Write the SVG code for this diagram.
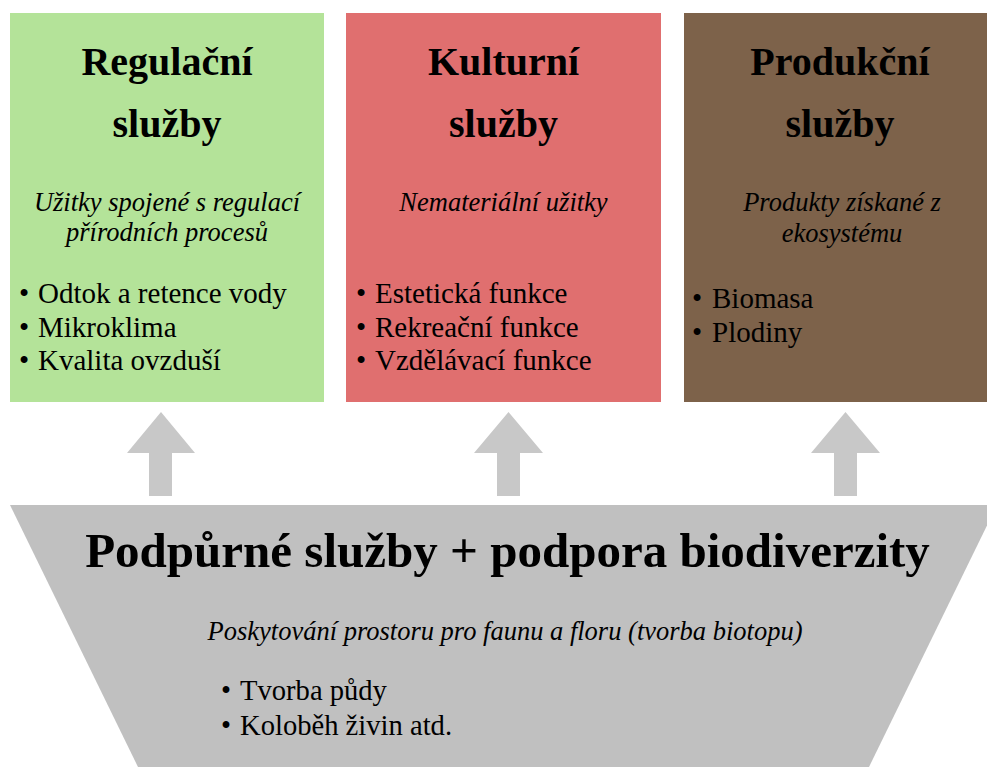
<svg xmlns="http://www.w3.org/2000/svg" width="987" height="767" viewBox="0 0 987 767">
<style>
.t{font-family:"Liberation Serif","Times New Roman",serif;fill:#000}
.h{font-size:40px;font-weight:bold;text-anchor:middle}
.i{font-size:26.5px;font-style:italic;text-anchor:middle}
.b{font-size:29px}
.bb{font-size:28.6px}
.big{font-size:49px;font-weight:bold;text-anchor:middle}
.arrow{fill:#c8c8c8}
</style>
<rect width="987" height="767" fill="#ffffff"/>
<g id="regulacni">
<rect x="10" y="13" width="314" height="389" fill="#b4e399"/>
<text class="t h" x="167" y="75">Regulační</text>
<text class="t h" x="167" y="137">služby</text>
<text class="t i" x="167" y="211">Užitky spojené s regulací</text>
<text class="t i" x="167" y="241">přírodních procesů</text>
<text class="t b" x="19" y="303">•</text><text class="t b" x="38" y="303">Odtok a retence vody</text>
<text class="t b" x="19" y="337">•</text><text class="t b" x="38" y="337">Mikroklima</text>
<text class="t b" x="19" y="370">•</text><text class="t b" x="38" y="370">Kvalita ovzduší</text>
</g>
<g id="kulturni">
<rect x="346" y="13" width="315" height="389" fill="#e06f6f"/>
<text class="t h" x="503.5" y="75">Kulturní</text>
<text class="t h" x="503.5" y="137">služby</text>
<text class="t i" x="503.5" y="211">Nemateriální užitky</text>
<text class="t b" x="356" y="303">•</text><text class="t b" x="375" y="303">Estetická funkce</text>
<text class="t b" x="356" y="337">•</text><text class="t b" x="375" y="337">Rekreační funkce</text>
<text class="t b" x="356" y="370">•</text><text class="t b" x="375" y="370">Vzdělávací funkce</text>
</g>
<g id="produkcni">
<rect x="684" y="13" width="315" height="389" fill="#7d624a"/>
<text class="t h" x="840" y="75">Produkční</text>
<text class="t h" x="840" y="137">služby</text>
<text class="t i" x="842" y="211">Produkty získané z</text>
<text class="t i" x="842" y="242">ekosystému</text>
<text class="t b" x="692" y="308">•</text><text class="t b" x="712" y="308">Biomasa</text>
<text class="t b" x="692" y="342">•</text><text class="t b" x="712" y="342">Plodiny</text>
</g>
<g id="connectors">
<polygon class="arrow" points="161,412 195,453 172,453 172,496 149,496 149,453 127,453"/>
<polygon class="arrow" points="508.5,412 543,453 520,453 520,496 497,496 497,453 474,453"/>
<polygon class="arrow" points="845.5,412 880,453 857,453 857,496 834,496 834,453 811,453"/>
</g>
<g id="podpurne">
<polygon points="10,505 997,505 869,767 138,767" fill="#c0c0c0"/>
<text class="t big" x="507.5" y="567">Podpůrné služby + podpora biodiverzity</text>
<text class="t i" x="505" y="640">Poskytování prostoru pro faunu a floru (tvorba biotopu)</text>
<text class="t bb" x="221" y="700">•</text><text class="t bb" x="240" y="700">Tvorba půdy</text>
<text class="t bb" x="221" y="735">•</text><text class="t bb" x="240" y="735">Koloběh živin atd.</text>
</g>
</svg>
